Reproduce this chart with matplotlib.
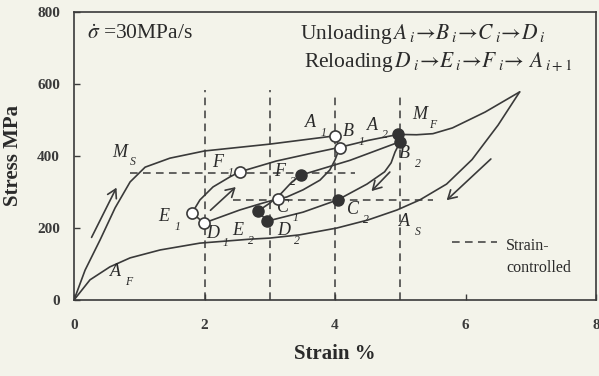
import matplotlib
matplotlib.use("Agg")
import matplotlib.pyplot as plt

plt.rcParams['font.family'] = ['Liberation Serif', 'DejaVu Serif']
plt.rcParams['mathtext.fontset'] = 'stix'

# ---------------- data (strain %, stress MPa) ----------------
outer_load_x = [0, 0.17, 0.40, 0.63, 0.86, 1.09, 1.47, 2.0, 3.0, 4.0]
outer_load_y = [0, 83, 167, 256, 328, 369, 394, 414, 433, 456]

envelope_x = [4.97, 5.25, 5.5, 5.8, 6.3, 6.83]
envelope_y = [460, 459, 462, 478, 522, 578]

outer_unload_x = [6.83, 6.5, 6.1, 5.71, 5.30, 4.95, 4.5, 4.03, 3.46, 3.0, 2.7, 1.93, 1.32, 0.86, 0.55, 0.245, 0]
outer_unload_y = [578, 486, 390, 322, 278, 250, 222, 200, 181, 172, 169, 158, 139, 117, 92, 56, 0]

unload1_x = [4.0, 4.07, 4.0, 3.92, 3.77, 3.51, 3.26, 3.12, 2.85, 2.54, 2.04, 1.99]
unload1_y = [456, 422, 389, 361, 333, 306, 286, 281, 267, 250, 217, 214]

reload1_x = [1.99, 1.81, 1.93, 2.13, 2.39, 2.54, 3.1, 3.6, 4.07, 4.5, 4.97]
reload1_y = [214, 242, 278, 314, 342, 356, 386, 406, 424, 443, 460]

unload2_x = [4.97, 5.0, 4.92, 4.86, 4.76, 4.49, 4.04, 3.51, 2.96]
unload2_y = [460, 440, 411, 381, 356, 322, 278, 244, 219]

reload2_x = [2.96, 2.82, 3.0, 3.18, 3.34, 3.48, 4.23, 5.0]
reload2_y = [219, 247, 269, 297, 328, 347, 388, 440]

# marked points
open_names = ['A1', 'B1', 'C1', 'D1', 'E1', 'F1']
open_x = [4.0, 4.07, 3.12, 1.99, 1.81, 2.54]
open_y = [456, 422, 281, 214, 242, 356]
filled_names = ['A2', 'B2', 'C2', 'D2', 'E2', 'F2']
filled_x = [4.97, 5.0, 4.04, 2.96, 2.82, 3.48]
filled_y = [460, 440, 278, 219, 247, 347]

# strain-controlled dashed guides
vguide_x = [2, 3, 4, 5]
vguide_top = [583, 583, 575, 575]
hguide_y = [353, 279]
hguide_x0 = [0.86, 2.43]
hguide_x1 = [4.3, 5.5]

# direction arrows (start -> end)
arrow_start = [(0.25, 167), (2.06, 244), (4.87, 361), (6.42, 397)]
arrow_end = [(0.67, 319), (2.51, 319), (4.53, 297), (5.68, 272)]

# labels: letter, subscript, position
labels = [
    ('M', 'S', 0.70, 411), ('M', 'F', 5.30, 514), ('A', 'F', 0.64, 78), ('A', 'S', 5.07, 217),
    ('A', '1', 3.62, 492), ('B', '1', 4.20, 467), ('A', '2', 4.57, 486), ('B', '2', 5.07, 408),
    ('C', '1', 3.20, 256), ('C', '2', 4.27, 250), ('D', '1', 2.12, 186), ('E', '2', 2.51, 194),
    ('D', '2', 3.22, 194), ('E', '1', 1.38, 231), ('F', '1', 2.20, 381), ('F', '2', 3.15, 356),
]

xticks = [0, 2, 4, 6, 8]
yticks = [0, 200, 400, 600, 800]

# ---------------- figure ----------------
bg = '#f3f3ea'
lc = '#3a3a3a'
fig = plt.figure(figsize=(5.99, 3.76), dpi=100, facecolor=bg)
ax = fig.add_axes([74/599, 1-300/376, (596-74)/599, (300-12)/376])
ax.set_facecolor(bg)
ax.set_xlim(0, 8)
ax.set_ylim(0, 800)

for xs, ys in [(outer_load_x, outer_load_y), (envelope_x, envelope_y),
               (outer_unload_x, outer_unload_y), (unload1_x, unload1_y),
               (reload1_x, reload1_y), (unload2_x, unload2_y), (reload2_x, reload2_y)]:
    ax.plot(xs, ys, color=lc, lw=1.2, solid_capstyle='round', solid_joinstyle='round', zorder=3)

dash = (0, (5, 3.5))
for x, top in zip(vguide_x, vguide_top):
    ax.plot([x, x], [0, top], color=lc, lw=1.1, linestyle=dash, zorder=2)
for y, x0, x1 in zip(hguide_y, hguide_x0, hguide_x1):
    ax.plot([x0, x1], [y, y], color=lc, lw=1.1, linestyle=dash, zorder=2)

ax.plot(open_x, open_y, 'o', ms=8, mfc='white', mec=lc, mew=1.2, zorder=5)
ax.plot(filled_x, filled_y, 'o', ms=8, mfc='#333333', mec='#333333', zorder=5)

for s, e in zip(arrow_start, arrow_end):
    ax.annotate('', xy=e, xytext=s,
                arrowprops=dict(arrowstyle='->,head_length=0.6,head_width=0.35', lw=1.2, color=lc))

for letter, sub, x, y in labels:
    ax.text(x, y, letter, fontsize=13, style='italic', color='#2a2a2a', ha='center', va='center')
    ax.annotate(sub, xy=(x, y), xytext=(9.5, -7.5), textcoords='offset points',
                fontsize=8.5, style='italic', color='#2a2a2a', ha='center', va='center')

ax.text(0.20, 737, r'$\dot{\sigma}$ =30MPa/s', fontsize=15.5, color='#2a2a2a', va='center', ha='left')
ax.text(3.47, 740,
        r'Unloading$\,A_{\;i}\!\rightarrow\! B_{\;i}\!\rightarrow\! C_{\;i}\!\rightarrow\! D_{\;i}$',
        fontsize=15.5, color='#2a2a2a', va='center', ha='left')
ax.text(3.53, 660,
        r'Reloading$\,D_{\;i}\!\rightarrow\! E_{\;i}\!\rightarrow\! F_{\;i}\!\rightarrow\, A_{\;i+1}$',
        fontsize=15.5, color='#2a2a2a', va='center', ha='left')

# strain-controlled key
ax.plot([5.80, 6.49], [161, 161], color=lc, lw=1.1, linestyle=dash)
ax.text(6.62, 150, 'Strain-', fontsize=11.5, color='#2a2a2a', va='center', ha='left')
ax.text(6.62, 88, 'controlled', fontsize=11.5, color='#2a2a2a', va='center', ha='left')

ax.set_xticks(xticks)
ax.set_yticks(yticks)
ax.set_xticklabels([str(v) for v in xticks], fontsize=11, fontweight='bold', color='#2a2a2a')
ax.set_yticklabels([str(v) for v in yticks], fontsize=11, fontweight='bold', color='#2a2a2a')
ax.tick_params(direction='in', length=4, width=1, colors=lc, pad=10)
ax.tick_params(axis='x', pad=14)
for sp in ax.spines.values():
    sp.set_color(lc)
    sp.set_linewidth(1.2)

ax.set_xlabel('Strain %', fontsize=15, fontweight='bold', color='#2a2a2a', labelpad=8)
ax.set_ylabel('Stress MPa', fontsize=15, fontweight='bold', color='#2a2a2a', labelpad=10)

fig.savefig('out.png', dpi=100, facecolor=bg)
